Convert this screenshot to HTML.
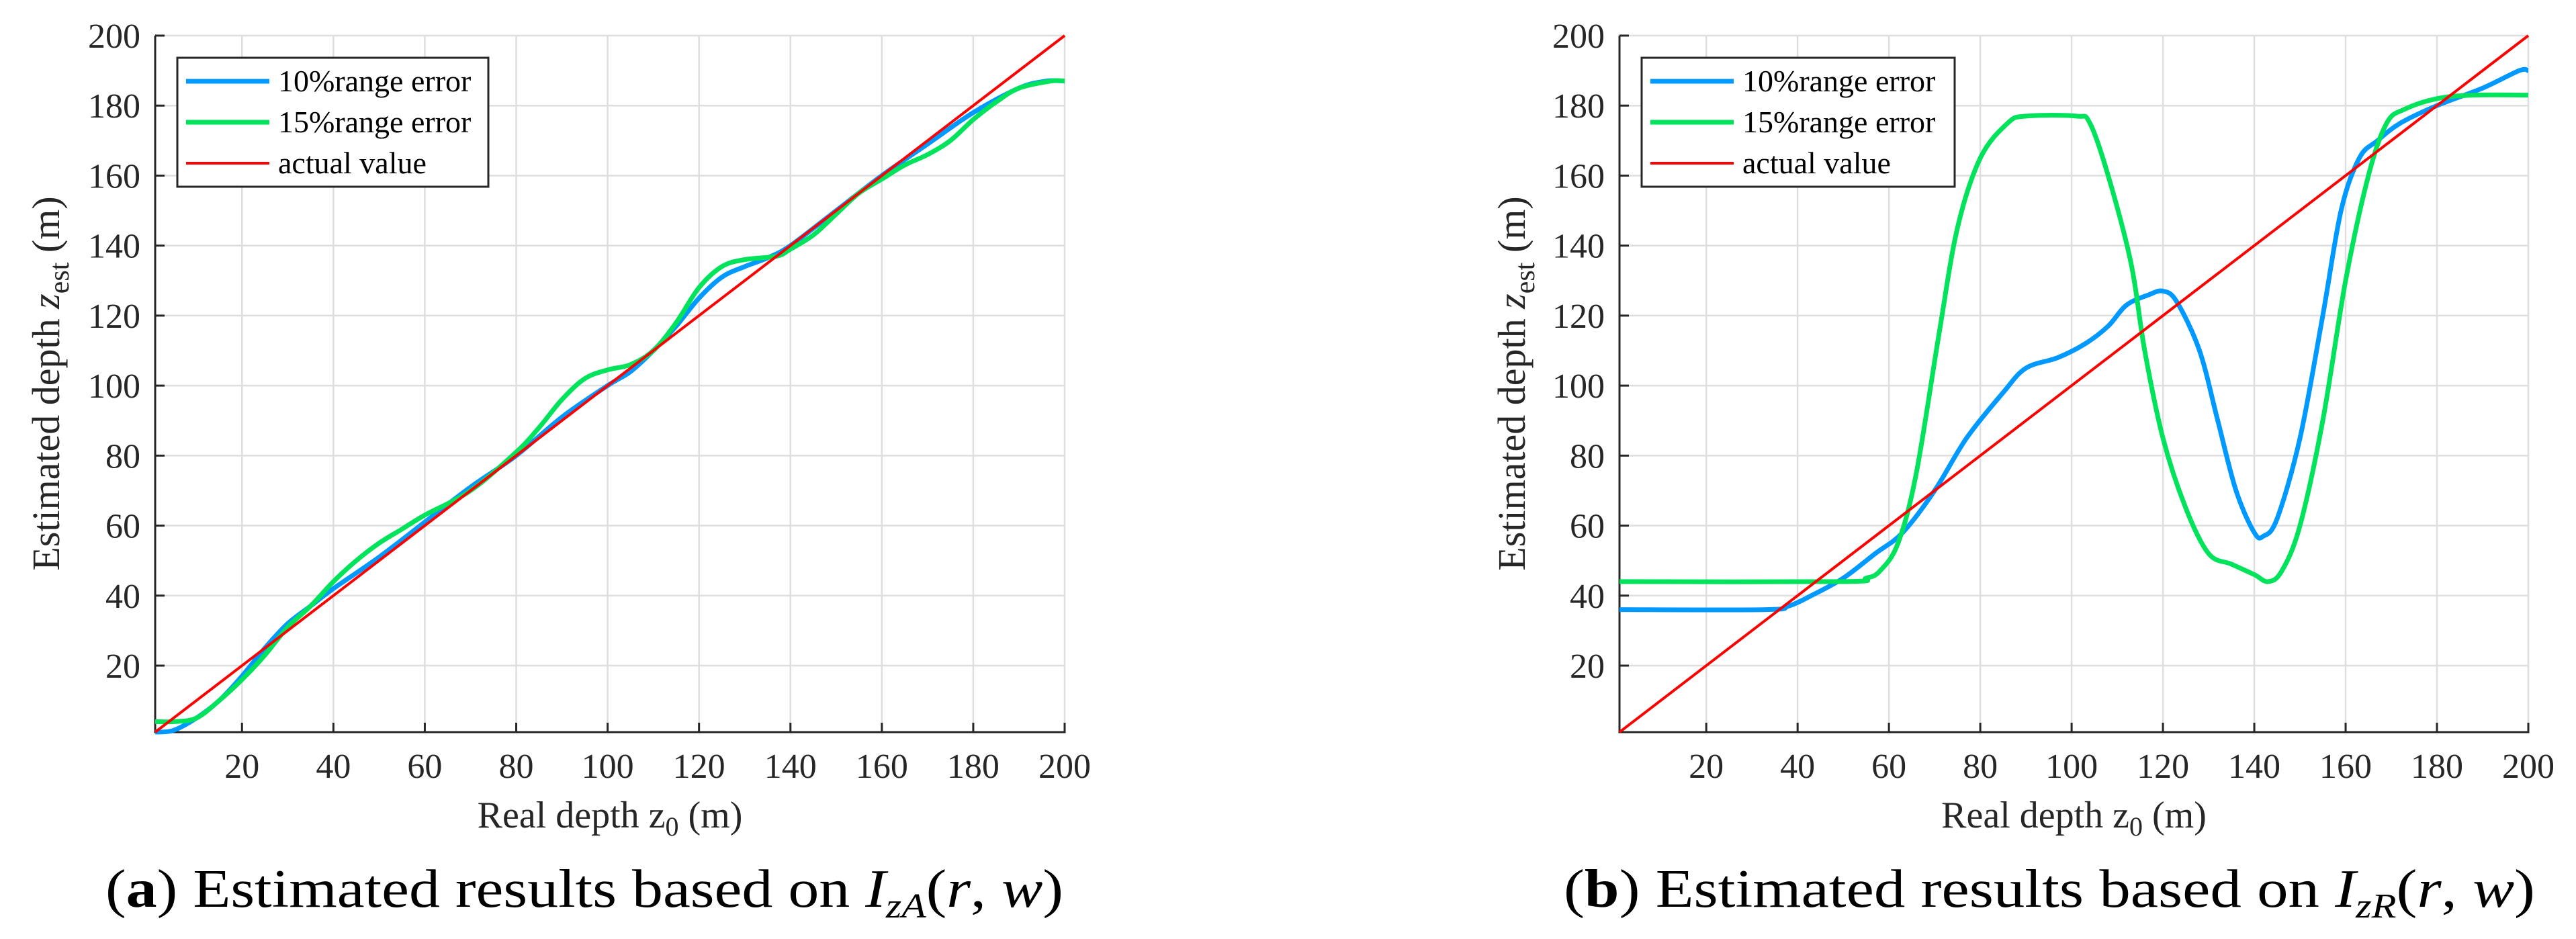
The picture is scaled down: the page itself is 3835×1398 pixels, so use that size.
<!DOCTYPE html>
<html><head><meta charset="utf-8"><style>
html,body{margin:0;padding:0;background:#fff;}
svg{display:block;font-family:"Liberation Serif",serif;}
</style></head><body>
<svg id="fig" width="3835" height="1398" viewBox="0 0 3835 1398" xmlns="http://www.w3.org/2000/svg"></svg>
<script>
const xTicks=[20,40,60,80,100,120,140,160,180,200];
const yTicks=[20,40,60,80,100,120,140,160,180,200];
const legendLabels=["10%range error","15%range error","actual value"];
const actualX=[1,200];
const actualY=[1,200];
// panel a
const aBlueX=[1,5,10,15,20,25,30,35,40,50,60,70,80,90,100,105,110,115,120,125,130,135,140,150,160,170,180,190,196,200];
const aBlueY=[1,1.5,5,10,17,25,32,37,42,51,61,71,80,91,100,104,110,117,125,131,134,136.5,140,150,160,169,178,185,187,187];
const aGreenX=[1,5,10,15,20,25,30,35,40,45,50,55,60,70,80,85,90,95,100,105,110,115,120,125,130,137,140,145,150,155,160,165,170,175,180,185,190,197,200];
const aGreenY=[4,4,5,10,16,23,31,37,44,50,55,59,63,70,81,88,96,102,104.5,106,110,118,128,134,136,137,139,143,149,155,159,163,166,170,176,181,185,187,187];
// panel b
const bBlueX=[1,33,38,43,50,57,63,70,77,85,90,97,103,108,112,117,120,123,128,132,136,140,142,145,150,155,159,163,167,172,180,190,198,200];
const bBlueY=[36,36,37,40,45,52,58,70,85,98,105,108,112,117,123,126,127,124,110,90,70,58,57,62,85,120,150,165,170,175,180,185,190,190];
const bGreenX=[1,50,55,58,62,66,71,75,80,86,90,101,104,108,113,116,120,125,130,135,140,143,146,150,155,160,165,169,173,180,188,200];
const bGreenY=[44,44,45,47,55,75,115,145,165,175,177,177,175,160,135,110,85,65,52,49,46,44,47,60,90,130,160,175,179,182,183,183];

const NS="http://www.w3.org/2000/svg";
const svg=document.getElementById('fig');
function mk(tag,attrs,parent){const e=document.createElementNS(NS,tag);for(const k in attrs)e.setAttribute(k,attrs[k]);(parent||svg).appendChild(e);return e;}
const TOP=53,BOT=1090,XMIN=1,XMAX=200,YMIN=1,YMAX=200;
function smoothPath(px,py){
  let d="M"+px[0].toFixed(1)+","+py[0].toFixed(1);
  for(let i=0;i<px.length-1;i++){
    const x0=px[Math.max(i-1,0)],y0=py[Math.max(i-1,0)],x1=px[i],y1=py[i],x2=px[i+1],y2=py[i+1],x3=px[Math.min(i+2,px.length-1)],y3=py[Math.min(i+2,px.length-1)];
    const c1x=x1+(x2-x0)/6,c1y=y1+(y2-y0)/6,c2x=x2-(x3-x1)/6,c2y=y2-(y3-y1)/6;
    d+=" C"+c1x.toFixed(1)+","+c1y.toFixed(1)+" "+c2x.toFixed(1)+","+c2y.toFixed(1)+" "+x2.toFixed(1)+","+y2.toFixed(1);
  }
  return d;
}
function panel(id,L,R,blueX,blueY,greenX,greenY,leg,ylabX,caption,capL,capR,sub){
  const g=mk('g',{});
  
  
  const sx=v=>L+(v-XMIN)/(XMAX-XMIN)*(R-L);
  const sy=v=>BOT-(v-YMIN)/(YMAX-YMIN)*(BOT-TOP);
  xTicks.forEach(t=>{
    const l=mk('line',{x1:sx(t),x2:sx(t),y1:TOP,y2:BOT,stroke:'#dedede','stroke-width':2.5},g);
    
    
    mk('line',{x1:sx(t),x2:sx(t),y1:BOT,y2:BOT-14,stroke:'#262626','stroke-width':3},g);
    const tx=mk('text',{x:sx(t),y:1158,'font-size':52,'text-anchor':'middle',fill:'#262626'},g);
    tx.textContent=t;
    
    
  });
  yTicks.forEach(t=>{
    const l=mk('line',{x1:L,x2:R,y1:sy(t),y2:sy(t),stroke:'#dedede','stroke-width':2.5},g);
    
    
    mk('line',{x1:L,x2:L+14,y1:sy(t),y2:sy(t),stroke:'#262626','stroke-width':3},g);
    const tx=mk('text',{x:L-22,y:sy(t)+18,'font-size':52,'text-anchor':'end',fill:'#262626'},g);
    tx.textContent=t;
    
    
  });
  const ax=mk('path',{d:`M${L},${TOP} L${L},${BOT} L${R},${BOT} L${R},${BOT-14}`,stroke:'#262626','stroke-width':3,fill:'none'},g);
  
  
  const pb=mk('path',{d:smoothPath(blueX.map(sx),blueY.map(sy)),stroke:'#0099ff','stroke-width':7,fill:'none','stroke-linejoin':'round'},g);
  
  
  const pg=mk('path',{d:smoothPath(greenX.map(sx),greenY.map(sy)),stroke:'#00e35a','stroke-width':7,fill:'none','stroke-linejoin':'round'},g);
  
  
  const pr=mk('line',{x1:sx(actualX[0]),y1:sy(actualY[0]),x2:sx(actualX[1]),y2:sy(actualY[1]),stroke:'#ff0000','stroke-width':4},g);
  
  
  // legend
  const lg=mk('g',{},g);
  
  
  mk('rect',{x:leg[0],y:86,width:leg[1]-leg[0],height:192,fill:'#fff',stroke:'#262626','stroke-width':3},lg);
  const cols=['#0099ff','#00e35a','#ff0000'],ws=[7,7,4],rows=[121,182,243];
  legendLabels.forEach((lab,i)=>{
    const e=mk('g',{},lg);
    
    
    mk('line',{x1:leg[0]+13,x2:leg[0]+137,y1:rows[i],y2:rows[i],stroke:cols[i],'stroke-width':ws[i]},e);
    const t=mk('text',{x:leg[0]+150,y:rows[i]+15,'font-size':46,fill:'#000'},e);
    t.textContent=lab;
  });
  // labels
  const cx=(L+R)/2;
  const xl=mk('text',{x:cx,y:1232,'font-size':56,'text-anchor':'middle',fill:'#262626'},g);
  
  
  xl.innerHTML='Real depth z<tspan dy="12" font-size="40">0</tspan><tspan dy="-12"> (m)</tspan>';
  const yl=mk('text',{x:0,y:0,'font-size':58,'text-anchor':'middle',fill:'#262626',transform:`translate(${ylabX},571) rotate(-90)`},g);
  
  
  yl.innerHTML='Estimated depth <tspan font-style="italic">z</tspan><tspan dy="14" font-size="42">est</tspan><tspan dy="-14"> (m)</tspan>';
  const cp=mk('text',{x:capL,y:1350,'font-size':80,fill:'#000'},g);
  
  
  cp.innerHTML=`(<tspan font-weight="bold">${caption}</tspan>) Estimated results based on  <tspan font-style="italic">I</tspan><tspan font-style="italic" font-size="52" dy="16">z${sub}</tspan><tspan dy="-16">(<tspan font-style="italic">r</tspan>, <tspan font-style="italic">w</tspan>)</tspan>`;
  const w=cp.getComputedTextLength?cp.getComputedTextLength():0;
  if(w>0){cp.setAttribute('textLength',capR-capL);cp.setAttribute('lengthAdjust','spacingAndGlyphs');}
}
panel('panel-a',231,1585,aBlueX,aBlueY,aGreenX,aGreenY,[264,727],88,'a',157,1583,'A');
panel('panel-b',2411,3764,bBlueX,bBlueY,bGreenX,bGreenY,[2444,2910],2270,'b',2328,3774,'R');
</script>
</body></html>
